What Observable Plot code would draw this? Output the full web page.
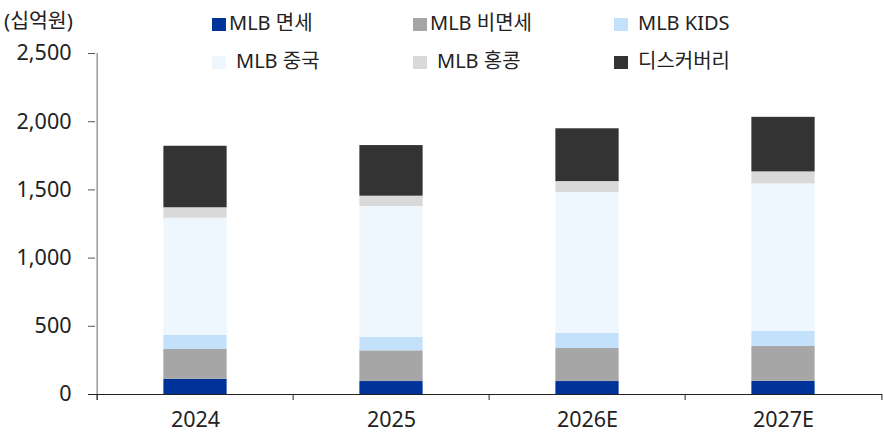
<!DOCTYPE html>
<html>
<head>
<meta charset="utf-8">
<script src="https://cdn.jsdelivr.net/npm/d3@7"></script>
<script src="https://cdn.jsdelivr.net/npm/@observablehq/plot@0.6"></script>
<style>
  html, body { margin: 0; padding: 0; background: #fff; }
  #wrap { position: relative; width: 884px; height: 437px; font-family: "Noto Sans", "Noto Sans CJK KR", sans-serif; color: #222; }
  #unit { position: absolute; left: 4px; top: 4px; font-size: 20.5px; }
  .lg { position: absolute; font-size: 20px; line-height: 26px; white-space: nowrap; }
  .sw { position: absolute; width: 14px; height: 13px; }
</style>
</head>
<body>
<div id="wrap"><div id="unit">(십억원)</div></div>
<script>
const years = ["2024", "2025", "2026E", "2027E"];
const series = ["MLB 면세", "MLB 비면세", "MLB KIDS", "MLB 중국", "MLB 홍콩", "디스커버리"];
const colors = ["#00339a", "#a6a6a6", "#c4e1fc", "#eef6fe", "#d9d9d9", "#333333"];
const dutyFree = [112, 95, 95, 97];
const nonDutyFree = [218, 225, 242, 255];
const kids = [105, 98, 110, 112];
const china = [857, 960, 1034, 1080];
const hongkong = [77, 76, 80, 88];
const discovery = [451, 371, 387, 400];
const yTicks = [0, 500, 1000, 1500, 2000, 2500];

const seriesValues = [dutyFree, nonDutyFree, kids, china, hongkong, discovery];
const data = [];
years.forEach((yr, i) => {
  series.forEach((s, j) => data.push({year: yr, series: s, value: seriesValues[j][i]}));
});

const W = 884, H = 437, mL = 95, mR = 2, mT = 53, mB = 43;
const bw = (W - mL - mR) / years.length;
const inset = (bw - 64) / 2;

const chart = Plot.plot({
  width: W, height: H,
  marginLeft: mL, marginRight: mR, marginTop: mT, marginBottom: mB,
  style: {fontFamily: '"Noto Sans", "Noto Sans CJK KR", sans-serif', fontSize: "21.5px", color: "#222", background: "transparent"},
  x: {domain: years, padding: 0, label: null},
  y: {domain: [0, 2500], label: null},
  color: {domain: series, range: colors},
  marks: [
    Plot.barY(data, {x: "year", y: "value", fill: "series", order: series, insetLeft: inset, insetRight: inset}),
    Plot.axisY({ticks: yTicks, tickFormat: d3.format(","), tickSize: 7, tickPadding: 17, stroke: "#555", label: null}),
    Plot.axisX({tickSize: 0, tickPadding: 17, label: null}),
    Plot.ruleX([years[0]], {x: d => d, dx: -bw / 2, stroke: "#666", insetBottom: -6}),
    Plot.ruleX(years, {x: d => d, dx: -bw / 2, y1: 0, y2: 0, insetBottom: -6, stroke: "#222"}),
    Plot.ruleX([years[years.length - 1]], {x: d => d, dx: bw / 2, y1: 0, y2: 0, insetBottom: -6, stroke: "#222"}),
    Plot.ruleY([0], {stroke: "#222", insetLeft: -7})
  ]
});
const wrap = document.getElementById("wrap");
chart.style.position = "absolute";
chart.style.left = "0px";
chart.style.top = "0px";
wrap.appendChild(chart);

// legend (two rows, three columns)
const legendPos = [
  {sx: 212, tx: 229, y: 24},
  {sx: 413, tx: 430, y: 24},
  {sx: 614, tx: 638, y: 24},
  {sx: 212, tx: 236, y: 62},
  {sx: 413, tx: 437, y: 62},
  {sx: 614, tx: 638, y: 62}
];
series.forEach((s, i) => {
  const p = legendPos[i];
  const sw = document.createElement("div");
  sw.className = "sw";
  sw.style.left = p.sx + "px";
  sw.style.top = (p.y - 6) + "px";
  sw.style.background = colors[i];
  wrap.appendChild(sw);
  const t = document.createElement("div");
  t.className = "lg";
  t.style.left = p.tx + "px";
  t.style.top = (p.y - 14) + "px";
  t.textContent = s;
  wrap.appendChild(t);
});
</script>
</body>
</html>
